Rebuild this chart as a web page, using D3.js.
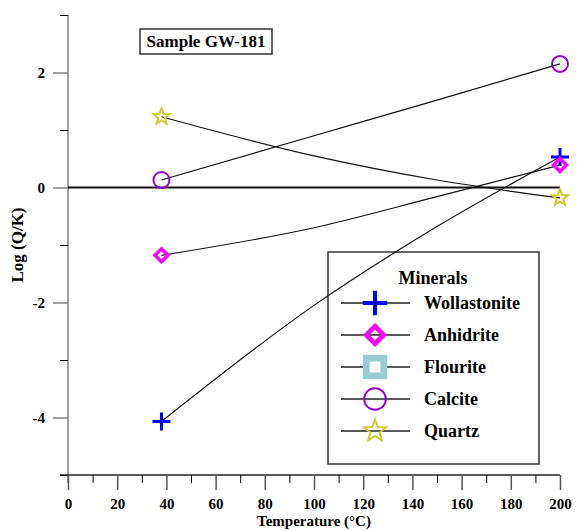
<!DOCTYPE html>
<html>
<head>
<meta charset="utf-8">
<script src="https://cdn.jsdelivr.net/npm/d3@7"></script>
<style>
  body { margin: 0; background: #fff; }
  svg text { font-family: "Liberation Serif", "DejaVu Serif", "Times New Roman", serif !important; font-weight: bold; }
</style>
</head>
<body>
<div id="okvir"></div>
<script>
// temperature (°C) where the curves are known
const temps = [38, 100, 150, 200];
// Log(Q/K) per mineral
const wollastonite = [-4.07, -2.05, -0.68, 0.53];
const anhidrite = [-1.18, -0.70, -0.16, 0.39];
const calcite = [0.13, 0.90, 1.52, 2.15];
const quartz = [1.23, 0.55, 0.13, -0.18];

const xMajor = [0, 20, 40, 60, 80, 100, 120, 140, 160, 180, 200];
const xMinor = [10, 30, 50, 70, 90, 110, 130, 150, 170, 190];
const yMajor = [-4, -2, 0, 2];
const yMinor = [-5, -3, -1, 1, 3];

const legendNames = ["Wollastonite", "Anhidrite", "Flourite", "Calcite", "Quartz"];

const sirina = 584, visina = 531;
const svg = d3.select("#okvir").append("svg")
    .attr("width", sirina)
    .attr("height", visina);

const xSkala = d3.scaleLinear().domain([0, 200]).range([68, 560]);
const ySkala = d3.scaleLinear().domain([-5, 3]).range([475, 15]);

// y axis
const yOs = svg.append("g").attr("transform", "translate(68,0)");
yOs.append("line")
    .attr("y1", 15).attr("y2", 483)
    .attr("stroke", "#808080").attr("stroke-width", 1.5);
yOs.append("g")
    .call(d3.axisLeft(ySkala).tickValues(yMajor).tickSize(15).tickPadding(8).tickFormat(d => String(d)))
    .call(g => g.select(".domain").remove())
    .call(g => g.selectAll(".tick line").attr("stroke", "#808080").attr("stroke-width", 1.5))
    .call(g => g.selectAll("text").attr("font-size", 15).attr("fill", "#000"));
yOs.append("g")
    .call(d3.axisLeft(ySkala).tickValues(yMinor).tickSize(8).tickFormat(""))
    .call(g => g.select(".domain").remove())
    .call(g => g.selectAll(".tick line").attr("stroke", "#000").attr("stroke-width", 1));

// x axis
const xOs = svg.append("g").attr("transform", "translate(0,475)");
xOs.append("line")
    .attr("x1", 60).attr("x2", 560)
    .attr("stroke", "#222").attr("stroke-width", 1.5);
xOs.append("g")
    .call(d3.axisBottom(xSkala).tickValues(xMajor).tickSize(15).tickPadding(8).tickFormat(d => String(d)))
    .call(g => g.select(".domain").remove())
    .call(g => g.selectAll(".tick line").attr("stroke", "#555").attr("stroke-width", 1.5))
    .call(g => g.selectAll("text").attr("font-size", 15).attr("fill", "#000"));
xOs.append("g")
    .call(d3.axisBottom(xSkala).tickValues(xMinor).tickSize(8).tickFormat(""))
    .call(g => g.select(".domain").remove())
    .call(g => g.selectAll(".tick line").attr("stroke", "#000").attr("stroke-width", 1));

// axis labels
svg.append("text")
    .attr("x", 314).attr("y", 526)
    .attr("text-anchor", "middle")
    .attr("font-size", 15)
    .text("Temperature (°C)");
svg.append("text")
    .attr("transform", "translate(23,245) rotate(-90)")
    .attr("text-anchor", "middle")
    .attr("font-size", 17)
    .text("Log (Q/K)");

// zero line
svg.append("line")
    .attr("x1", xSkala(0)).attr("x2", xSkala(200))
    .attr("y1", ySkala(0)).attr("y2", ySkala(0))
    .attr("stroke", "#111").attr("stroke-width", 2);

// title box
svg.append("rect")
    .attr("x", 140).attr("y", 29).attr("width", 132).attr("height", 25)
    .attr("fill", "#fff").attr("stroke", "#333").attr("stroke-width", 1.5);
svg.append("text")
    .attr("x", 206).attr("y", 47)
    .attr("text-anchor", "middle")
    .attr("font-size", 17)
    .text("Sample GW-181");

// marker drawers
const boje = {
    Wollastonite: "#0000ff",
    Anhidrite: "#ff00ff",
    Flourite: "#99cccc",
    Calcite: "#9900cc",
    Quartz: "#cccc33"
};

function crtajMarker(g, ime, x, y, s) {
    const c = boje[ime];
    if (ime === "Wollastonite") {
        g.append("path")
            .attr("d", `M${x - 9 * s},${y}H${x + 9 * s}M${x},${y - 9 * s}V${y + 9 * s}`)
            .attr("stroke", c).attr("stroke-width", 3 * s).attr("fill", "none");
    } else if (ime === "Anhidrite") {
        const r = 6.5 * s;
        g.append("path")
            .attr("d", `M${x},${y - r}L${x + r},${y}L${x},${y + r}L${x - r},${y}Z`)
            .attr("stroke", c).attr("stroke-width", 3.5 * s).attr("fill", "none");
    } else if (ime === "Flourite") {
        const r = 9 * s;
        g.append("rect")
            .attr("x", x - r).attr("y", y - r).attr("width", 2 * r).attr("height", 2 * r)
            .attr("fill", c);
        g.append("rect")
            .attr("x", x - 4 * s).attr("y", y - 4 * s).attr("width", 8 * s).attr("height", 8 * s)
            .attr("fill", "#fff");
    } else if (ime === "Calcite") {
        g.append("circle")
            .attr("cx", x).attr("cy", y).attr("r", 8 * s)
            .attr("stroke", c).attr("stroke-width", 2).attr("fill", "none");
    } else if (ime === "Quartz") {
        const tocke = [];
        for (let i = 0; i < 10; i++) {
            const r = i % 2 === 0 ? 8.5 * s : 3.6 * s;
            const a = -Math.PI / 2 + i * Math.PI / 5;
            tocke.push([x + r * Math.cos(a), y + r * Math.sin(a)]);
        }
        g.append("path")
            .attr("d", "M" + tocke.join("L") + "Z")
            .attr("stroke", c).attr("stroke-width", 2).attr("fill", "none");
    }
}

// legend (drawn under the curves)
const legenda = svg.append("g");
legenda.append("rect")
    .attr("x", 328).attr("y", 252).attr("width", 211).attr("height", 212)
    .attr("fill", "#fff").attr("stroke", "#333").attr("stroke-width", 1.5);
legenda.append("text")
    .attr("x", 433).attr("y", 284)
    .attr("text-anchor", "middle")
    .attr("font-size", 18)
    .text("Minerals");
legendNames.forEach((ime, i) => {
    const y = 303 + i * 32;
    legenda.append("line")
        .attr("x1", 341).attr("x2", 410).attr("y1", y).attr("y2", y)
        .attr("stroke", "#222").attr("stroke-width", 1.5);
    crtajMarker(legenda, ime, 375, y, 1.35);
    legenda.append("text")
        .attr("x", 424).attr("y", y + 6)
        .attr("font-size", 18)
        .text(ime);
});

// series lines + markers
const serije = [
    { ime: "Wollastonite", vrijednosti: wollastonite },
    { ime: "Anhidrite", vrijednosti: anhidrite },
    { ime: "Calcite", vrijednosti: calcite },
    { ime: "Quartz", vrijednosti: quartz }
];

const linija = d3.line()
    .x(d => xSkala(d[0]))
    .y(d => ySkala(d[1]))
    .curve(d3.curveMonotoneX);

const granice = svg.append("g");
serije.forEach(s => {
    const podatci = temps.map((t, i) => [t, s.vrijednosti[i]]);
    granice.append("path")
        .attr("d", linija(podatci))
        .attr("fill", "none")
        .attr("stroke", "#111")
        .attr("stroke-width", 1.2);
});
serije.forEach(s => {
    const podatci = temps.map((t, i) => [t, s.vrijednosti[i]]);
    [podatci[0], podatci[podatci.length - 1]].forEach(d => {
        crtajMarker(granice, s.ime, xSkala(d[0]), ySkala(d[1]), 1);
    });
});
</script>
</body>
</html>
